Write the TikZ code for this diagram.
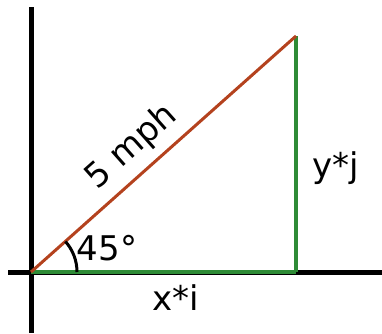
\documentclass[tikz,border=0pt]{standalone}
\usepackage{fontspec}
\setmainfont{DejaVu Sans}
\definecolor{hyp}{HTML}{B4421E}
\definecolor{leg}{HTML}{2E8B36}
\tikzset{
  axis/.style={line width=5pt,black},
  hypline/.style={line width=3pt,hyp},
  legline/.style={line width=3.5pt,leg},
  lbl/.style={font=\fontsize{34}{38}\selectfont,inner sep=0pt}
}
\begin{document}
\begin{tikzpicture}[x=1pt,y=-1pt]
\useasboundingbox (0,0) rectangle (382,333);
\coordinate (O) at (31,272);
\coordinate (A) at (296,36);
\coordinate (B) at (296,272);
\coordinate (yt) at (31,7);
\coordinate (yb) at (31,333);
\coordinate (xl) at (8,272);
\coordinate (xr) at (382,272);
\draw[axis] (yt) -- (yb);
\draw[axis] (xl) -- (xr);
\draw[legline] (O) -- (B);
\draw[legline] (B) -- (A);
\draw[hypline] (O) -- (A);
\draw[line width=3pt] ([xshift=46pt]O) arc[start angle=0,end angle=-41.6,radius=46];
\node[lbl,rotate=41.6] (mph) at (132,147) {5 mph};
\node[lbl] (ang) at (107,248) {45°};
\node[lbl] (xi) at (176,298) {x*i};
\node[lbl] (yj) at (336,168) {y*j};
\end{tikzpicture}
\end{document}
